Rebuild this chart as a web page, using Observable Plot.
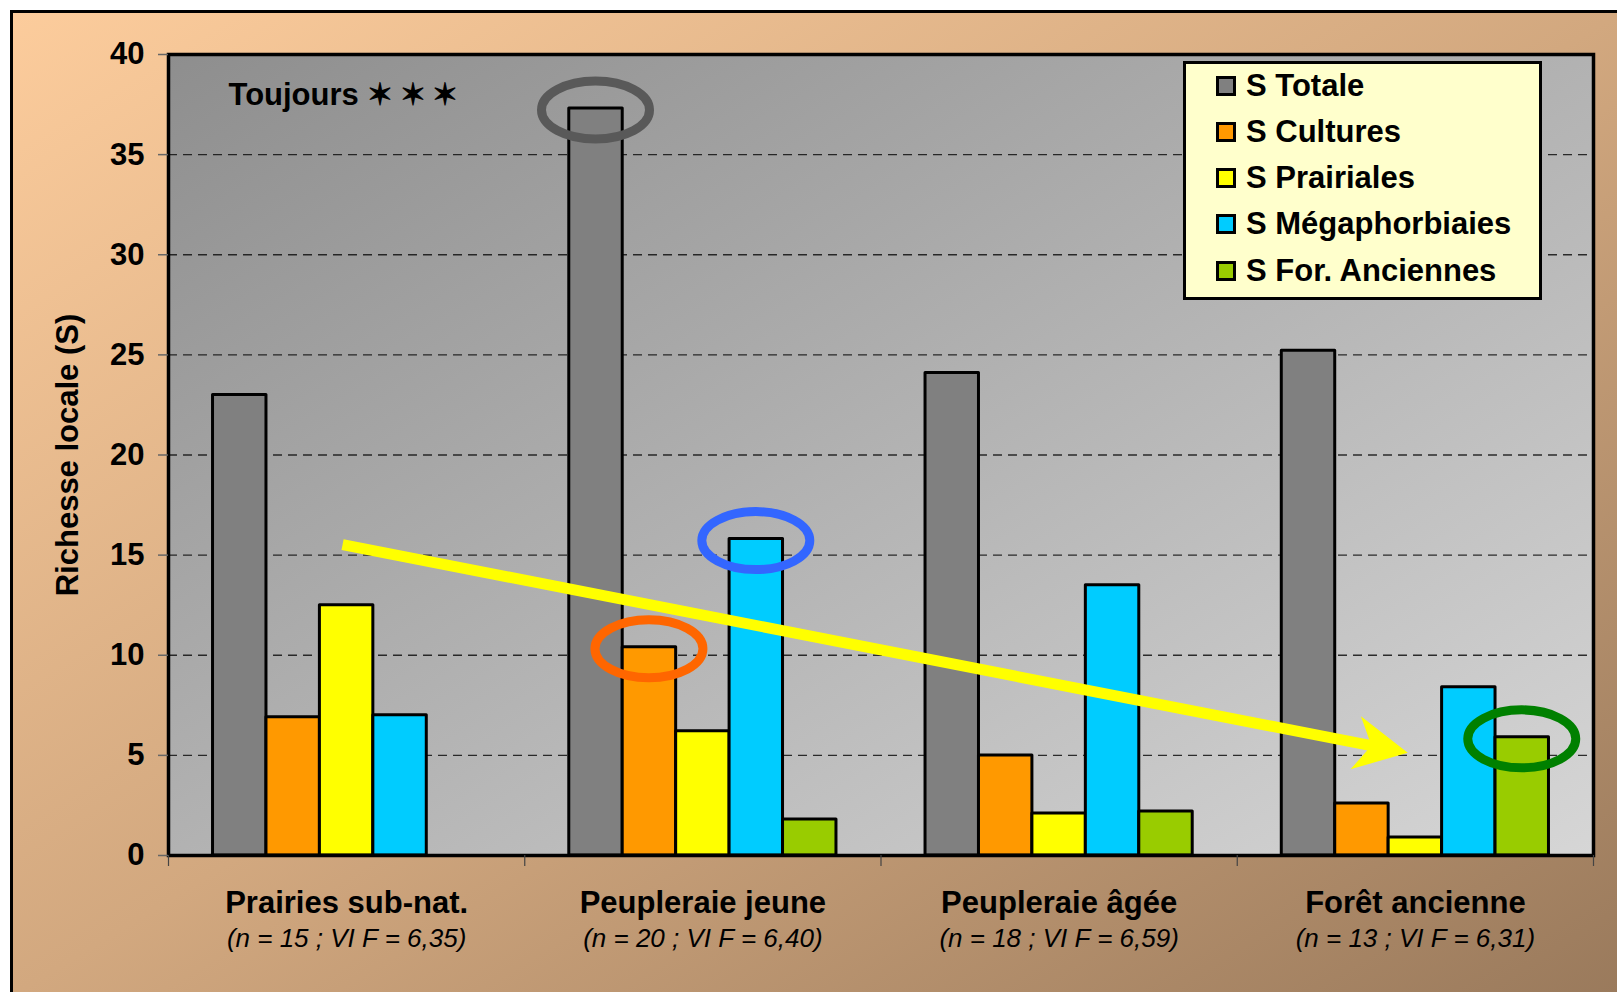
<!DOCTYPE html>
<html>
<head>
<meta charset="utf-8">
<script src="https://cdn.jsdelivr.net/npm/d3@7"></script>
<script src="https://cdn.jsdelivr.net/npm/@observablehq/plot@0.6"></script>
<style>
  html, body { margin: 0; padding: 0; background: #fff; width: 1617px; height: 992px; overflow: hidden; }
  #bg { position: absolute; left: 10px; top: 10px; width: 1607px; height: 982px;
        border-left: 3px solid #000; border-top: 3px solid #000;
        background: linear-gradient(to bottom right, #FCCC9C 0%, #D2A87F 50%, #9A7A5C 100%); }
  #chart { position: absolute; left: 0; top: 0; }
  #legend { position: absolute; left: 1183px; top: 61px; width: 353px; height: 233px;
            background: #FFFFCC; border: 3px solid #000;
            font: bold 31px "Liberation Sans", Arial, sans-serif; color: #000; }
  #legend .row { position: absolute; left: 30px; height: 40px; line-height: 40px; display: flex; align-items: center; white-space: nowrap; }
  #legend .sw { width: 14px; height: 14px; border: 3px solid #000; margin-right: 10px; }
</style>
</head>
<body>
<div id="bg"></div>
<div id="chart"></div>
<div id="legend"></div>
<script>
// ---------------- data ----------------
const categories = ["Prairies sub-nat.", "Peupleraie jeune", "Peupleraie âgée", "Forêt ancienne"];
const subLabels = ["(n = 15 ; VI F = 6,35)", "(n = 20 ; VI F = 6,40)", "(n = 18 ; VI F = 6,59)", "(n = 13 ; VI F = 6,31)"];
const seriesNames = ["S Totale", "S Cultures", "S Prairiales", "S Mégaphorbiaies", "S For. Anciennes"];
const seriesColors = ["#808080", "#FF9900", "#FFFF00", "#00CCFF", "#99CC00"];
const sTotale        = [23.0, 37.3, 24.1, 25.2];
const sCultures      = [6.9, 10.4, 5.0, 2.6];
const sPrairiales    = [12.5, 6.2, 2.1, 0.9];
const sMegaphorbiaies = [7.0, 15.8, 13.5, 8.4];
const sForAnciennes  = [0, 1.8, 2.2, 5.9];
const yTicks = [0, 5, 10, 15, 20, 25, 30, 35, 40];
const gridTicks = [5, 10, 15, 20, 25, 30, 35];
const noteText = "Toujours \u2736\u2009\u2736\u2009\u2736";
const yTitle = "Richesse locale (S)";
// highlighted bars (group index, series index, ring colour)
const hlGroup  = [1, 1, 1, 3];
const hlSeries = [0, 1, 3, 4];
const hlColor  = ["#595959", "#FF6600", "#3366FF", "#008000"];
// trend arrow (group position, value)
const trendFrom = [-0.01, 15.5];
const trendTo   = [2.98, 5.1];

// ---------------- build ----------------
const seriesValues = [sTotale, sCultures, sPrairiales, sMegaphorbiaies, sForAnciennes];
const groupWidth = 0.75;
const barW = groupWidth / seriesNames.length;
const bars = [];
seriesValues.forEach((vals, si) => vals.forEach((v, gi) => {
  if (v > 0) bars.push({gi, si, series: seriesNames[si], cat: categories[gi], value: v});
}));
const boundaries = d3.range(categories.length + 1).map(i => i - 0.5);

function plotBackground(index, scales, values, dim) {
  const g = d3.create("svg:g");
  const lg = g.append("defs").append("linearGradient").attr("id", "plotbg")
    .attr("x1", 0).attr("y1", 0).attr("x2", 1).attr("y2", 1);
  lg.append("stop").attr("offset", 0).attr("stop-color", "#8E8E8E");
  lg.append("stop").attr("offset", 1).attr("stop-color", "#D6D6D6");
  g.append("rect")
    .attr("x", dim.marginLeft).attr("y", dim.marginTop)
    .attr("width", dim.width - dim.marginLeft - dim.marginRight)
    .attr("height", dim.height - dim.marginTop - dim.marginBottom)
    .attr("fill", "url(#plotbg)");
  return g.node();
}

function rings(index, scales) {
  const g = d3.create("svg:g");
  hlGroup.forEach((gi, k) => {
    const si = hlSeries[k];
    const cx = scales.x(gi - groupWidth / 2 + (si + 0.5) * barW);
    const cy = scales.y(seriesValues[si][gi]);
    g.append("ellipse").attr("cx", cx).attr("cy", cy + 2).attr("rx", 54).attr("ry", 29)
      .attr("fill", "none").attr("stroke", hlColor[k]).attr("stroke-width", 9);
  });
  return g.node();
}

function trendArrow(index, scales) {
  const x0 = scales.x(trendFrom[0]), y0 = scales.y(trendFrom[1]);
  const x1 = scales.x(trendTo[0]), y1 = scales.y(trendTo[1]);
  const ang = Math.atan2(y1 - y0, x1 - x0);
  const len = Math.hypot(x1 - x0, y1 - y0);
  const g = d3.create("svg:g")
    .attr("transform", `translate(${x0},${y0}) rotate(${ang * 180 / Math.PI})`);
  g.append("rect").attr("x", 0).attr("y", -5.5).attr("width", len - 36).attr("height", 11).attr("fill", "#FFFF00");
  g.append("path")
    .attr("d", `M${len},0 L${len - 53},-27 L${len - 37},0 L${len - 53},27 Z`)
    .attr("fill", "#FFFF00");
  return g.node();
}

const chart = Plot.plot({
  width: 1617,
  height: 992,
  marginLeft: 168,
  marginRight: 24,
  marginTop: 54,
  marginBottom: 137,
  style: {background: "transparent", overflow: "visible", fontFamily: "'Liberation Sans', Arial, sans-serif", color: "#000"},
  x: {domain: [-0.5, categories.length - 0.5], axis: null},
  y: {domain: [0, 40], axis: null},
  color: {domain: seriesNames, range: seriesColors},
  marks: [
    plotBackground,
    Plot.gridY(gridTicks, {stroke: "#111", strokeOpacity: 0.85, strokeWidth: 1.4, strokeDasharray: "9,6"}),
    Plot.rect(bars, {
      x1: d => d.gi - groupWidth / 2 + d.si * barW,
      x2: d => d.gi - groupWidth / 2 + (d.si + 1) * barW,
      y1: d => 0,
      y2: "value",
      fill: "series",
      stroke: "#000",
      strokeWidth: 3,
      strokeLinejoin: "round"
    }),
    Plot.frame({stroke: "#000", strokeWidth: 3.5}),
    Plot.axisY(yTicks, {tickSize: 10, tickPadding: 14, fontSize: 31, fontWeight: "bold", stroke: "#666", strokeWidth: 1.5, label: null}),
    Plot.axisX(boundaries, {tickSize: 11, tickFormat: () => "", stroke: "#444", strokeWidth: 1.2, label: null}),
    Plot.text([yTitle], {frameAnchor: "left", textAnchor: "middle", lineAnchor: "middle", dx: -100, rotate: -90, fontSize: 31, fontWeight: "bold", fill: "#000"}),
    Plot.text([noteText], {frameAnchor: "top-left", dx: 60, dy: 41, textAnchor: "start", lineAnchor: "middle", fontSize: 31, fontWeight: "bold", fill: "#000"}),
    Plot.text(categories, {x: (d, i) => i, frameAnchor: "bottom", lineAnchor: "middle", dy: 48, fontSize: 31, fontWeight: "bold", fill: "#000"}),
    Plot.text(subLabels, {x: (d, i) => i, frameAnchor: "bottom", lineAnchor: "middle", dy: 83, fontSize: 26, fontStyle: "italic", fill: "#000"}),
    trendArrow,
    rings
  ]
});
document.getElementById("chart").appendChild(chart);

// legend
const legend = d3.select("#legend");
seriesNames.forEach((name, i) => {
  const row = legend.append("div").attr("class", "row").style("top", (21.5 + 46.25 * i - 20) + "px");
  row.append("span").attr("class", "sw").style("background", seriesColors[i]);
  row.append("span").text(name);
});
</script>
</body>
</html>
